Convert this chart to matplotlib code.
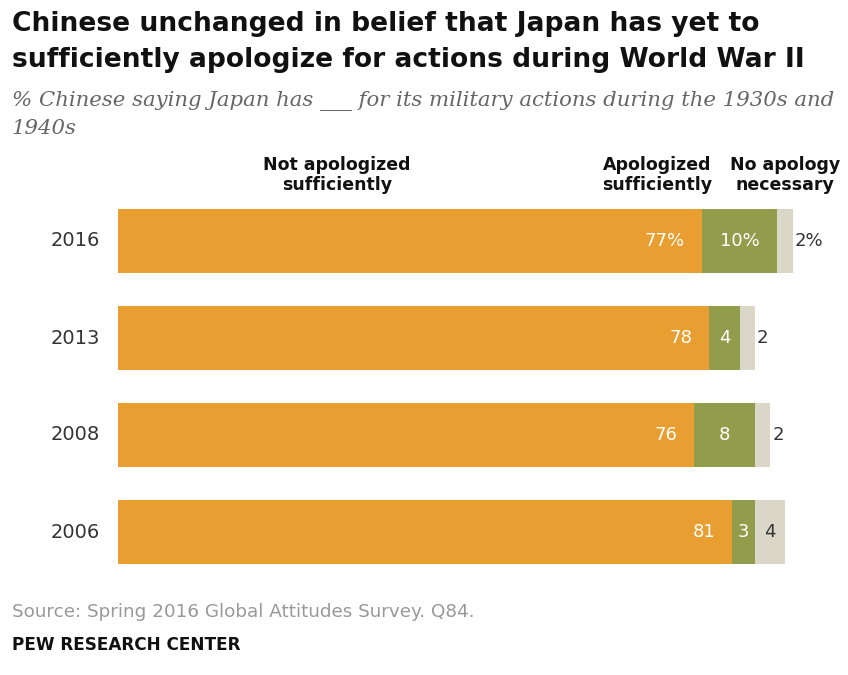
import matplotlib.pyplot as plt

years = ["2016", "2013", "2008", "2006"]
not_apologized = [77, 78, 76, 81]
apologized = [10, 4, 8, 3]
no_apology = [2, 2, 2, 4]
labels_suffix = ["%", "", "", ""]

orange = "#E99E31"
green = "#919D4B"
light = "#DAD7C8"

W, H = 848, 675
fig = plt.figure(figsize=(W / 100, H / 100), dpi=100)

# axes placed in pixel terms: 1% ~ 7.58 px, bars start at x=118
px = 7.58
xmax = 96
left = 118 / W
width = xmax * px / W
ax = fig.add_axes([left, 1 - 580.5 / H, width, 388 / H])
ax.set_xlim(0, xmax)
ax.set_ylim(len(years) - 0.5, -0.5)
ax.axis("off")

ys = range(len(years))
bh = 0.65
ax.barh(ys, not_apologized, height=bh, color=orange)
ax.barh(ys, apologized, left=not_apologized, height=bh, color=green)
lefts2 = [a + b for a, b in zip(not_apologized, apologized)]
ax.barh(ys, no_apology, left=lefts2, height=bh, color=light)

num_font = dict(family="DejaVu Sans", fontsize=13)
for i, y in enumerate(ys):
    sfx = labels_suffix[i]
    ax.text(not_apologized[i] - 2.2, y, f"{not_apologized[i]}{sfx}", ha="right", va="center",
            color="white", **num_font)
    ax.text(not_apologized[i] + apologized[i] / 2, y, f"{apologized[i]}{sfx}", ha="center",
            va="center", color="white", **num_font)
    if no_apology[i] >= 3:
        ax.text(lefts2[i] + no_apology[i] / 2, y, f"{no_apology[i]}{sfx}", ha="center",
                va="center", color="#333333", **num_font)
    else:
        ax.text(lefts2[i] + no_apology[i] + 0.3, y, f"{no_apology[i]}{sfx}", ha="left",
                va="center", color="#333333", **num_font)
    fig.text(75 / W, 1 - (241 + 97 * i) / H, years[i], ha="center", va="center",
             color="#333333", family="DejaVu Sans", fontsize=14)

# titles
title_font = dict(family="DejaVu Sans", fontweight="bold", fontsize=19.1,
                  va="center", color="#111111")
fig.text(12 / W, 1 - 24 / H, "Chinese unchanged in belief that Japan has yet to", **title_font)
fig.text(12 / W, 1 - 60 / H, "sufficiently apologize for actions during World War II",
         **title_font)
sub_font = dict(family="DejaVu Serif", style="italic", fontsize=15.3, color="#666666")
fig.text(12 / W, 1 - 101 / H,
         "% Chinese saying Japan has ___ for its military actions during the 1930s and",
         va="center", **sub_font)
fig.text(12 / W, 1 - 129 / H, "1940s", va="center", **sub_font)

# column headers
head = dict(fontsize=12.5, fontweight="bold", ha="center", va="center", color="#111111",
            linespacing=1.2)
fig.text(337 / W, 1 - 175 / H, "Not apologized\nsufficiently", **head)
fig.text(657 / W, 1 - 175 / H, "Apologized\nsufficiently", **head)
fig.text(785 / W, 1 - 175 / H, "No apology\nnecessary", **head)

fig.text(12 / W, 1 - 612 / H, "Source: Spring 2016 Global Attitudes Survey. Q84.",
         fontsize=13.2, color="#999999", va="center")
fig.text(12 / W, 1 - 645 / H, "PEW RESEARCH CENTER", fontsize=12.2, fontweight="bold",
         color="#111111", va="center")

fig.savefig("out.png", dpi=100)
